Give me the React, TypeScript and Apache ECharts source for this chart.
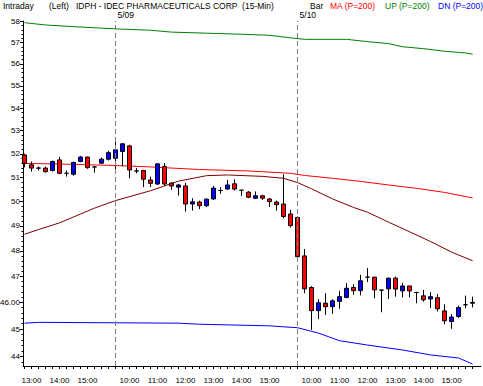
import React, { useEffect, useRef } from 'react';
import * as echarts from 'echarts';

// ---- categories / tick labels ----
const sessionTimes = [
  '9:30', '9:45', '10:00', '10:15', '10:30', '10:45', '11:00', '11:15', '11:30', '11:45',
  '12:00', '12:15', '12:30', '12:45', '13:00', '13:15', '13:30', '13:45', '14:00', '14:15',
  '14:30', '14:45', '15:00', '15:15', '15:30', '15:45',
];
const firstDayTimes = sessionTimes.slice(13);
const barTimes = [...firstDayTimes, ...sessionTimes, ...sessionTimes];
const dayLabels = ['5/09', '5/10'];
const dayStarts = [firstDayTimes.length, firstDayTimes.length + sessionTimes.length];

const yTickPrices = [44, 45, 46, 47, 48, 49, 50, 51, 52, 53, 54, 55, 56, 57, 58];
const yTickLabels = ['44', '45', '46.00', '47', '48', '49', '50', '51', '52', '53', '54', '55', '56', '57', '58'];

// ---- OHLC ----
const opens = [
  51.95, 51.53, 51.39, 51.39, 51.29, 51.74, 51.17, 51.13, 51.67, 51.86, 51.44, 51.60, 51.77,
  51.81, 52.10, 52.34, 51.27, 51.29, 50.89, 50.72, 51.46, 50.76, 50.59, 50.64, 49.89, 49.97,
  49.82, 50.10, 50.45, 50.51, 50.73, 50.46, 50.38, 50.13, 50.23, 50.10, 49.97, 49.89, 49.48,
  49.34, 47.80, 46.57, 45.69, 45.97, 45.84, 46.04, 46.19, 46.57, 46.45, 46.97, 46.97, 46.47,
  46.52, 46.93, 46.44, 46.63, 46.38, 46.25, 46.13, 46.18, 45.68, 45.28, 45.47, 45.91, 45.97,
];
const closes = [
  51.60, 51.39, 51.39, 51.24, 51.67, 51.17, 51.17, 51.63, 51.86, 51.41, 51.44, 51.77, 52.05,
  52.17, 52.43, 51.31, 51.27, 50.92, 50.75, 51.57, 50.72, 50.64, 50.68, 49.89, 49.98, 49.82,
  50.09, 50.55, 50.45, 50.68, 50.51, 50.46, 50.17, 50.23, 50.13, 49.99, 49.86, 49.38, 49.01,
  47.77, 46.52, 45.69, 45.99, 45.84, 46.06, 46.22, 46.54, 46.45, 46.83, 46.97, 46.48, 46.47,
  46.93, 46.51, 46.63, 46.44, 46.38, 46.10, 46.22, 45.76, 45.31, 45.45, 45.81, 45.91, 46.00,
];
const lows = [
  51.42, 51.24, 51.29, 51.20, 51.24, 51.13, 51.03, 51.07, 51.64, 51.36, 51.20, 51.57, 51.71,
  51.31, 51.46, 50.96, 51.17, 50.59, 50.59, 50.68, 50.65, 50.48, 50.24, 49.58, 49.62, 49.68,
  49.77, 50.06, 50.31, 50.48, 50.45, 50.22, 50.13, 50.09, 50.06, 49.77, 49.62, 49.31, 48.93,
  47.71, 46.35, 44.97, 45.37, 45.53, 45.57, 45.76, 46.16, 46.29, 46.27, 46.78, 46.16, 45.63,
  46.13, 46.22, 46.19, 46.19, 45.97, 46.03, 45.78, 45.66, 45.18, 45.01, 45.41, 45.78, 45.81,
];
const highs = [
  52.00, 51.67, 51.46, 51.46, 51.71, 51.86, 51.29, 51.67, 51.91, 51.88, 51.45, 51.84, 52.13,
  52.68, 52.46, 52.39, 51.39, 51.31, 51.03, 51.60, 51.60, 50.78, 50.73, 50.76, 50.13, 50.03,
  50.13, 50.64, 50.59, 50.89, 50.92, 50.48, 50.43, 50.41, 50.27, 50.13, 50.03, 51.13, 49.65,
  49.38, 48.07, 46.62, 46.12, 46.35, 46.12, 46.44, 46.74, 46.70, 47.06, 47.32, 46.97, 46.48,
  46.95, 46.99, 46.74, 46.63, 46.39, 46.48, 46.39, 46.32, 45.93, 45.56, 45.88, 46.26, 46.22,
];

// ---- indicator lines: [bar index, price] ----
const maPoints = [
  [0, 51.59], [7, 51.55], [13, 51.50], [18, 51.44], [25, 51.33], [32, 51.27], [38, 51.17],
  [40, 51.08], [44, 50.96], [48, 50.83], [52, 50.68], [56, 50.54], [60, 50.37], [64, 50.14],
];
const upPoints = [
  [0, 57.94], [3, 57.83], [7, 57.75], [11, 57.68], [14, 57.63], [18, 57.58], [21, 57.49],
  [26, 57.44], [31, 57.39], [35, 57.34], [38, 57.22], [40, 57.15], [46, 57.15], [49, 57.04],
  [52, 56.95], [54, 56.80], [57, 56.71], [60, 56.59], [63, 56.51], [64, 56.45],
];
const dnPoints = [
  [0, 45.22], [2, 45.25], [22, 45.22], [25, 45.18], [35, 45.12], [39, 45.05], [42, 44.85],
  [45, 44.57], [49, 44.41], [54, 44.23], [58, 44.05], [62, 43.94], [64, 43.72],
];
const shortMaPoints = [
  [0, 48.66], [2, 48.85], [5, 49.12], [7, 49.36], [10, 49.72], [13, 50.03], [18, 50.44],
  [20, 50.64], [22, 50.84], [26, 51.07], [29, 51.10], [34, 51.04], [37, 50.96], [39, 50.78],
  [41, 50.52], [44, 50.10], [47, 49.75], [49, 49.55], [52, 49.15], [55, 48.76], [58, 48.37],
  [61, 47.95], [64, 47.61],
];

const PRICE_MIN = 43.65;
const PRICE_MAX = 58.02;
const FONT = '"Liberation Sans", Arial, sans-serif';

export default function App() {
  const ref = useRef<HTMLDivElement>(null);
  useEffect(() => {
    const chart = echarts.init(ref.current!, null, { renderer: 'svg' });
    const L = Math.log;
    const xMin = -0.21;
    const xMax = 65.2;
    const candleData = opens.map((o, i) => [i, L(o), L(closes[i]), L(lows[i]), L(highs[i])]);
    const toLine = (pts: number[][]) => pts.map(([i, p]) => [i, L(p)]);
    const hourIdx = barTimes.map((t, i) => (t.endsWith(':00') ? i : -1)).filter((i) => i >= 0);
    const minorTicks: number[] = [];
    for (let k = 219; k <= 290; k++) minorTicks.push(L(k / 5));
    const majorTicks = yTickPrices.map((p) => L(p));

    const lineSeries = (name: string, pts: number[][], color: string) => ({
      name,
      type: 'line',
      data: toLine(pts),
      showSymbol: false,
      symbol: 'none',
      lineStyle: { color, width: 1 },
      itemStyle: { color },
      z: 1,
      silent: true,
    });

    const headerText = (text: string, x: number, fill: string) => ({
      type: 'text',
      left: x,
      top: 1,
      style: { text, fill, fontSize: 8.5, fontFamily: FONT },
    });

    chart.setOption({
      animation: false,
      backgroundColor: '#fff',
      grid: { left: 23, right: 2, top: 21, bottom: 20, containLabel: false, outerBoundsMode: 'none' },
      xAxis: [
        {
          type: 'value',
          min: xMin,
          max: xMax,
          position: 'bottom',
          axisLine: { onZero: false, lineStyle: { color: '#000', width: 1 } },
          axisTick: { customValues: barTimes.map((_, i) => i), length: 3, lineStyle: { color: '#000' } },
          axisLabel: {
            customValues: hourIdx,
            formatter: (v: number) => barTimes[Math.round(v)] ?? '',
            fontSize: 8,
            fontFamily: FONT,
            color: '#000',
            margin: 10,
          },
          splitLine: { show: false },
        },
        {
          type: 'value',
          min: xMin,
          max: xMax,
          position: 'top',
          axisLine: { show: false, onZero: false },
          axisTick: { show: false },
          axisLabel: {
            customValues: dayStarts,
            formatter: (v: number) => dayLabels[dayStarts.indexOf(Math.round(v))] ?? '',
            fontSize: 8.5,
            fontFamily: FONT,
            color: '#000',
            align: 'left',
            padding: [0, 0, 0, 2],
            margin: 2,
          },
          splitLine: { show: false },
        },
      ],
      yAxis: [
        {
          type: 'value',
          min: L(PRICE_MIN),
          max: L(PRICE_MAX),
          position: 'left',
          axisLine: { onZero: false, lineStyle: { color: '#000', width: 1 } },
          axisTick: { customValues: majorTicks, length: 3, lineStyle: { color: '#000' } },
          axisLabel: {
            customValues: majorTicks,
            formatter: (v: number) => {
              const k = yTickPrices.findIndex((p) => Math.abs(L(p) - v) < 1e-6);
              return k >= 0 ? yTickLabels[k] : '';
            },
            fontSize: 8,
            fontFamily: FONT,
            color: '#000',
            margin: 3,
          },
          splitLine: { show: false },
        },
        {
          type: 'value',
          min: L(PRICE_MIN),
          max: L(PRICE_MAX),
          position: 'left',
          axisLine: { show: false, onZero: false },
          axisTick: { customValues: minorTicks, length: 1.5, lineStyle: { color: '#000' } },
          axisLabel: { show: false },
          splitLine: { show: false },
        },
      ],
      series: [
        lineSeries('UP', upPoints, '#008000'),
        lineSeries('DN', dnPoints, '#0000ff'),
        lineSeries('MA', maPoints, '#ff0000'),
        lineSeries('MA2', shortMaPoints, '#800000'),
        {
          name: 'IDPH',
          type: 'candlestick',
          data: candleData,
          encode: { x: 0, y: [1, 2, 3, 4] },
          barWidth: 5,
          z: 3,
          itemStyle: {
            color: '#0000ff',
            color0: '#ff0000',
            borderColor: '#000',
            borderColor0: '#000',
            borderColorDoji: '#000',
            borderWidth: 1,
          },
          markLine: {
            silent: true,
            symbol: 'none',
            label: { show: false },
            lineStyle: { color: '#808080', type: [5, 3], width: 1 },
            data: dayStarts.map((i) => ({ xAxis: i })),
          },
        },
      ],
      graphic: [
        headerText('Intraday', 3, '#000'),
        headerText('(Left)', 49, '#000'),
        headerText('IDPH - IDEC PHARMACEUTICALS CORP  (15-Min)', 76, '#000'),
        headerText('Bar', 310, '#000'),
        headerText('MA (P=200)', 330, '#ff0000'),
        headerText('UP (P=200)', 385, '#008000'),
        headerText('DN (P=200)', 438, '#0000ff'),
      ],
    });
    return () => chart.dispose();
  }, []);
  return (
    <div
      ref={ref}
      style={{ position: 'fixed', left: 0, top: 0, width: 483, height: 386, background: '#fff' }}
    />
  );
}
